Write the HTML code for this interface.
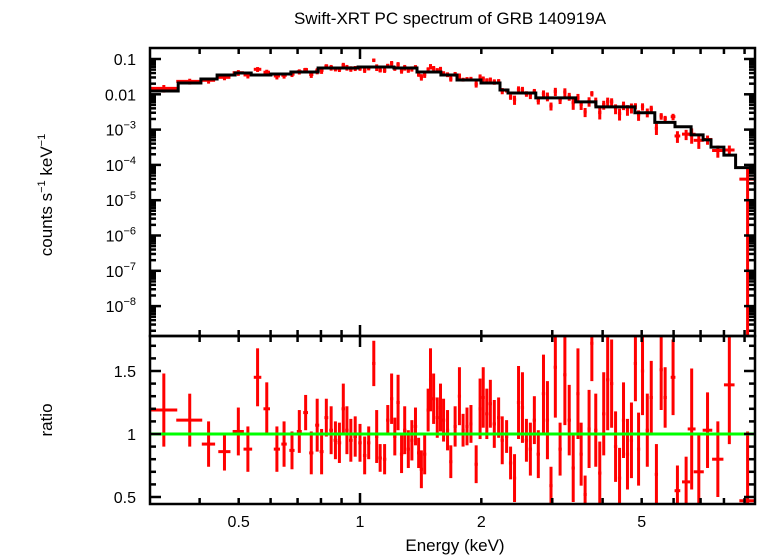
<!DOCTYPE html>
<html><head><meta charset="utf-8"><style>
html,body{margin:0;padding:0;background:#fff;}
svg{display:block;font-family:"Liberation Sans",sans-serif;}
</style></head><body>
<svg id="chart" width="758" height="556" viewBox="0 0 758 556">
<defs>
<clipPath id="clipTop"><rect x="150" y="48" width="605" height="288"/></clipPath>
<clipPath id="clipBot"><rect x="150" y="336" width="605" height="168"/></clipPath>
</defs>
<text x="450" y="24" font-size="17" text-anchor="middle">Swift-XRT PC spectrum of GRB 140919A</text>
<text transform="translate(52,195) rotate(-90)" font-size="17" text-anchor="middle">counts s<tspan font-size="11" dy="-7">−1</tspan><tspan dy="7"> keV</tspan><tspan font-size="11" dy="-7">−1</tspan></text>
<text transform="translate(52,420) rotate(-90)" font-size="17" text-anchor="middle">ratio</text>
<text x="455" y="551" font-size="17" text-anchor="middle">Energy (keV)</text>
<g id="gTop" clip-path="url(#clipTop)"></g>
<g id="gBot" clip-path="url(#clipBot)"></g>
<g id="gAxes"></g>
</svg>
<script>
// model step function (bin edges in keV, model counts/s/keV)
const modelEdges = [0.30,0.354,0.403,0.442,0.490,0.537,0.601,0.674,0.787,0.989,1.214,1.385,1.588,1.741,1.996,2.225,2.33,2.73,3.43,3.85,4.81,5.39,6.05,6.63,7.10,7.43,8.0,8.55,9.6];
const modelVals = [0.0124,0.0209,0.0271,0.0352,0.0401,0.0352,0.0376,0.0428,0.0556,0.0593,0.0556,0.0428,0.0352,0.0254,0.0209,0.0132,0.0109,0.0079,0.0061,0.0044,0.0030,0.0016,0.0012,0.00071,0.00051,0.00032,0.00019,0.000084];
// data bins
const energies = [0.326,0.378,0.421,0.461,0.499,0.527,0.557,0.587,0.622,0.648,0.678,0.707,0.733,0.757,0.783,0.803,0.825,0.848,0.869,0.889,0.909,0.928,0.949,0.973,1.0,1.027,1.051,1.082,1.100,1.122,1.151,1.172,1.198,1.220,1.243,1.268,1.291,1.318,1.345,1.373,1.398,1.420,1.447,1.476,1.496,1.523,1.555,1.584,1.612,1.649,1.680,1.722,1.765,1.802,1.843,1.885,1.942,1.986,2.022,2.064,2.106,2.154,2.208,2.254,2.311,2.364,2.418,2.474,2.530,2.588,2.647,2.708,2.770,2.853,2.918,2.978,3.053,3.137,3.224,3.305,3.381,3.474,3.538,3.619,3.702,3.761,3.846,3.935,4.025,4.117,4.211,4.307,4.406,4.507,4.610,4.716,4.824,4.912,5.024,5.163,5.281,5.439,5.589,5.717,5.982,6.133,6.445,6.653,6.930,7.284,7.726,8.250,9.157];
const halfWidths = [0.026,0.028,0.016,0.016,0.016,0.013,0.012,0.011,0.011,0.010,0.010,0.010,0.010,0.009,0.009,0.009,0.009,0.009,0.009,0.009,0.009,0.009,0.010,0.010,0.010,0.010,0.010,0.010,0.010,0.011,0.011,0.011,0.011,0.011,0.012,0.012,0.012,0.012,0.012,0.013,0.013,0.013,0.013,0.013,0.013,0.014,0.014,0.014,0.015,0.015,0.015,0.016,0.016,0.016,0.017,0.017,0.018,0.018,0.018,0.019,0.019,0.020,0.020,0.021,0.021,0.022,0.022,0.023,0.023,0.024,0.024,0.025,0.026,0.027,0.027,0.028,0.028,0.030,0.030,0.031,0.031,0.032,0.032,0.033,0.034,0.034,0.035,0.036,0.037,0.038,0.039,0.040,0.040,0.041,0.042,0.043,0.044,0.045,0.046,0.047,0.048,0.050,0.052,0.055,0.08,0.10,0.15,0.15,0.20,0.20,0.25,0.25,0.42];
const ratios = [1.19,1.11,0.92,0.86,1.02,0.88,1.45,1.20,0.88,0.92,0.87,1.02,1.17,0.85,1.07,0.86,1.13,1.03,0.95,0.93,1.20,1.03,0.95,0.98,0.93,0.83,0.93,1.56,0.98,0.81,0.80,1.11,1.28,0.98,1.25,0.84,1.03,0.88,0.95,1.06,0.85,0.72,0.84,1.19,1.43,1.28,1.13,1.21,1.11,1.03,0.78,1.06,1.30,1.03,1.06,1.08,0.76,1.20,1.29,1.16,1.24,1.08,1.13,0.95,0.98,0.77,0.65,1.25,1.21,0.95,0.88,1.11,0.84,1.32,1.11,0.59,1.53,0.88,1.47,1.11,0.73,1.32,0.84,0.52,1.04,1.72,1.03,0.69,1.16,1.43,1.40,0.90,0.65,1.11,0.84,0.95,1.56,0.88,1.50,1.03,1.29,0.68,1.51,1.29,1.45,0.55,0.62,1.04,0.70,1.03,0.80,1.39,0.47];
const ratioErrs = [0.29,0.21,0.18,0.15,0.19,0.18,0.23,0.21,0.18,0.18,0.15,0.17,0.14,0.17,0.21,0.18,0.15,0.19,0.15,0.16,0.20,0.19,0.17,0.16,0.15,0.15,0.13,0.18,0.21,0.11,0.12,0.12,0.20,0.15,0.22,0.15,0.19,0.15,0.16,0.15,0.12,0.15,0.16,0.17,0.25,0.20,0.16,0.19,0.17,0.16,0.13,0.16,0.23,0.13,0.15,0.15,0.15,0.24,0.24,0.20,0.19,0.19,0.16,0.19,0.13,0.13,0.19,0.29,0.28,0.17,0.21,0.19,0.19,0.31,0.31,0.15,0.40,0.21,0.40,0.28,0.27,0.36,0.25,0.15,0.31,0.30,0.29,0.25,0.33,0.40,0.35,0.28,0.24,0.30,0.28,0.30,0.30,0.29,0.35,0.29,0.29,0.24,0.32,0.24,0.30,0.20,0.20,0.48,0.30,0.30,0.30,0.47,0.55];
const topTickVals = [0.1,0.01,1e-3,1e-4,1e-5,1e-6,1e-7,1e-8];
const topTickLabels = ["0.1","0.01","10|-3","10|-4","10|-5","10|-6","10|-7","10|-8"];
const ratioTicks = [0.5,1,1.5];
const ratioTickLabels = ["0.5","1","1.5"];
const xTickVals = [0.5,1,2,5];
const xTickLabels = ["0.5","1","2","5"];

const NS="http://www.w3.org/2000/svg";
const X0=150,X1=755,YT0=48,YT1=336,YB1=504;
const xs = e => 360 + 403*Math.log10(e);
const yTop = v => v<=0 ? 1000 : 59 - 35.3*Math.log10(v/0.1);
const yBot = r => 434 - 126*(r-1);
function mk(tag, attrs, parent){const el=document.createElementNS(NS,tag);for(const k in attrs)el.setAttribute(k,attrs[k]);parent.appendChild(el);return el;}
const gTop=document.getElementById('gTop'), gBot=document.getElementById('gBot'), gAx=document.getElementById('gAxes');
function modelAt(e){for(let i=0;i<modelVals.length;i++){if(e<modelEdges[i+1])return modelVals[i];}return modelVals[modelVals.length-1];}

// data points
for(let i=0;i<energies.length;i++){
  const e=energies[i], w=halfWidths[i], r=ratios[i], er=ratioErrs[i], m=modelAt(e);
  const xl=xs(Math.max(e-w,0.29)), xr=xs(e+w), xc=xs(e);
  const c=r*m, ce=er*m;
  const pt=mk('g',{},gTop);
  
  
  mk('line',{x1:xl,x2:xr,y1:yTop(c),y2:yTop(c),stroke:'#ff0000','stroke-width':3},pt);
  mk('line',{x1:xc,x2:xc,y1:yTop(c+ce),y2:Math.min(yTop(c-ce),400),stroke:'#ff0000','stroke-width':3},pt);
  const rp=mk('g',{},gBot);
  
  
  mk('line',{x1:xl,x2:xr,y1:yBot(r),y2:yBot(r),stroke:'#ff0000','stroke-width':3},rp);
  mk('line',{x1:xc,x2:xc,y1:yBot(r+er),y2:yBot(r-er),stroke:'#ff0000','stroke-width':3},rp);
}
// model step
let d='';
for(let i=0;i<modelVals.length;i++){
  const xa=xs(modelEdges[i]), xb=xs(modelEdges[i+1]), y=yTop(modelVals[i]);
  d += (i===0?'M':'L')+xa.toFixed(1)+','+y.toFixed(1)+' L'+xb.toFixed(1)+','+y.toFixed(1)+' ';
}
const mp=mk('path',{d:d,fill:'none',stroke:'#000','stroke-width':3},gTop);


// unity line
const ul=mk('line',{x1:X0,x2:X1,y1:yBot(1),y2:yBot(1),stroke:'#00ff00','stroke-width':3},gBot);



// frames
const f1=mk('rect',{x:X0,y:YT0,width:X1-X0,height:YT1-YT0,fill:'none',stroke:'#000','stroke-width':2.5},gAx);


const f2=mk('rect',{x:X0,y:YT1,width:X1-X0,height:YB1-YT1,fill:'none',stroke:'#000','stroke-width':2.5},gAx);



// x ticks (minor and major)
const xt=[];
for(const dec of [0.1,1]) for(let k=1;k<=9;k++){const v=k*dec; if(xs(v)>X0+1&&xs(v)<X1-1) xt.push(v);}
xt.forEach(v=>{
  const x=xs(v), L=(Math.abs(v-1)<1e-6)?11:6;
  for(const yy of [[YT0,1],[YT1,-1],[YT1,1],[YB1,-1]]){
    mk('line',{x1:x,x2:x,y1:yy[0],y2:yy[0]+yy[1]*L,stroke:'#000','stroke-width':2.5},gAx);
  }
});
xTickVals.forEach((v,i)=>{
  const t=mk('text',{x:xs(v),y:527,'font-size':16,'text-anchor':'middle'},gAx);
  t.textContent=xTickLabels[i];
  
  
});
// top y ticks
for(let p=-9;p<=-1;p++) for(let k=1;k<=9;k++){
  const v=k*Math.pow(10,p), y=yTop(v);
  if(y<YT0+1||y>YT1-1) continue;
  const L=k===1?11:6;
  mk('line',{x1:X0,x2:X0+L,y1:y,y2:y,stroke:'#000','stroke-width':2.5},gAx);
  mk('line',{x1:X1,x2:X1-L,y1:y,y2:y,stroke:'#000','stroke-width':2.5},gAx);
}
topTickVals.forEach((v,i)=>{
  const y=yTop(v)+6;
  const t=mk('text',{x:136,y:y,'font-size':16,'text-anchor':'end'},gAx);
  const parts=topTickLabels[i].split('|');
  if(parts.length===1){t.textContent=parts[0];}
  else{
    const a=mk('tspan',{},t);a.textContent=parts[0];
    const b=mk('tspan',{'font-size':11,dy:-7},t);b.textContent=parts[1].replace('-','−');
  }
  
  
});
// ratio y ticks
for(let r=0.5;r<=1.75;r+=0.1){
  const y=yBot(r); const major=Math.abs(r*2-Math.round(r*2))<1e-6;
  const L=major?11:6;
  mk('line',{x1:X0,x2:X0+L,y1:y,y2:y,stroke:'#000','stroke-width':2.5},gAx);
  mk('line',{x1:X1,x2:X1-L,y1:y,y2:y,stroke:'#000','stroke-width':2.5},gAx);
}
ratioTicks.forEach((v,i)=>{
  const t=mk('text',{x:136,y:yBot(v)+6,'font-size':16,'text-anchor':'end'},gAx);
  t.textContent=ratioTickLabels[i];
  
  
});
</script>
</body></html>
